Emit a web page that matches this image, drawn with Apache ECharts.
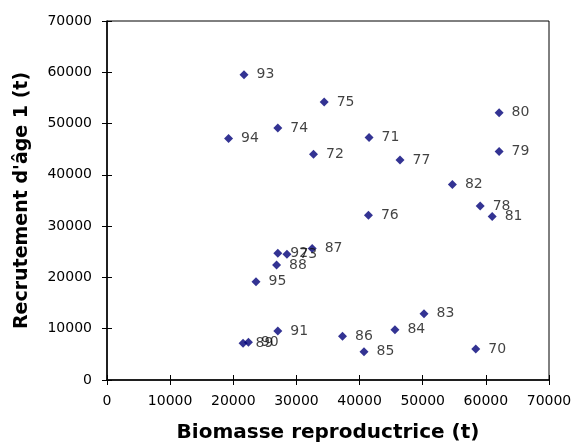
<!DOCTYPE html>
<html>
<head>
    <meta charset="utf-8">
    <script src="https://cdn.jsdelivr.net/npm/echarts@6/dist/echarts.min.js"></script>
    <style>
        html, body { margin: 0; padding: 0; background: #fff; }
        #main { width: 572px; height: 444px; }
    </style>
</head>
<body>
    <div id="main"></div>
    <script>
        // années (étiquettes des points)
        var years = ['70', '71', '72', '73', '74', '75', '76', '77', '78', '79', '80', '81', '82',
            '83', '84', '85', '86', '87', '88', '89', '90', '91', '92', '93', '94', '95'];
        // biomasse reproductrice (t)
        var biomasse = [58400, 41500, 32700, 28500, 27050, 34400, 41400, 46400, 59100, 62100, 62100, 61000, 54700,
            50200, 45600, 40700, 37300, 32500, 26850, 21550, 22400, 27050, 27050, 21700, 19250, 23600];
        // recrutement d'âge 1 (t)
        var recrutement = [6050, 47300, 44000, 24500, 49150, 54200, 32100, 42900, 33950, 44550, 52100, 31900, 38100,
            12900, 9800, 5500, 8550, 25650, 22400, 7150, 7350, 9550, 24700, 59500, 47100, 19150];

        var points = [];
        for (var k = 0; k < years.length; k++) {
            points.push([biomasse[k], recrutement[k], years[k]]);
        }

        var plain = function (v) { return String(v); };
        var tickFont = { fontFamily: 'DejaVu Sans', fontSize: 14, color: '#000', formatter: plain };

        var myChart = echarts.init(document.getElementById('main'));
        var option = {
            animation: false,
            grid: {
                left: 107, right: 23, top: 21, bottom: 64,
                containLabel: false, outerBoundsMode: 'none',
                show: true, borderColor: '#000', borderWidth: 1, backgroundColor: '#fff'
            },
            xAxis: [{
                type: 'value', min: 0, max: 70000, interval: 10000,
                name: 'Biomasse reproductrice (t)', nameLocation: 'middle', nameGap: 43,
                nameTextStyle: { fontFamily: 'DejaVu Sans', fontSize: 20, fontWeight: 'bold', color: '#000' },
                axisLine: { show: true, onZero: false, lineStyle: { color: '#000', width: 1.5 } },
                axisTick: { show: true, length: 5, lineStyle: { color: '#000' } },
                axisLabel: Object.assign({ margin: 14 }, tickFont),
                splitLine: { show: false }
            }, {
                type: 'value', min: 0, max: 70000, interval: 10000, position: 'bottom',
                axisLine: { show: false },
                axisTick: { show: true, inside: true, length: 5, lineStyle: { color: '#000' } },
                axisLabel: { show: false },
                splitLine: { show: false }
            }],
            yAxis: [{
                type: 'value', min: 0, max: 70000, interval: 10000,
                name: 'Recrutement d\'âge 1 (t)', nameLocation: 'middle', nameGap: 75,
                nameTextStyle: { fontFamily: 'DejaVu Sans', fontSize: 19, fontWeight: 'bold', color: '#000' },
                axisLine: { show: true, onZero: false, lineStyle: { color: '#000', width: 1.5 } },
                axisTick: { show: true, length: 5, lineStyle: { color: '#000' } },
                axisLabel: Object.assign({ margin: 15 }, tickFont),
                splitLine: { show: false }
            }, {
                type: 'value', min: 0, max: 70000, interval: 10000, position: 'left',
                axisLine: { show: false },
                axisTick: { show: true, inside: true, length: 5, lineStyle: { color: '#000' } },
                axisLabel: { show: false },
                splitLine: { show: false }
            }],
            series: [{
                type: 'scatter',
                symbol: 'diamond',
                symbolSize: 9,
                itemStyle: { color: '#000078' },
                label: {
                    show: true,
                    position: 'right',
                    distance: 8,
                    formatter: function (p) { return p.value[2]; },
                    fontFamily: 'DejaVu Sans',
                    fontSize: 14,
                    color: '#111'
                },
                data: points
            }]
        };
        myChart.setOption(option);
    </script>
</body>
</html>
